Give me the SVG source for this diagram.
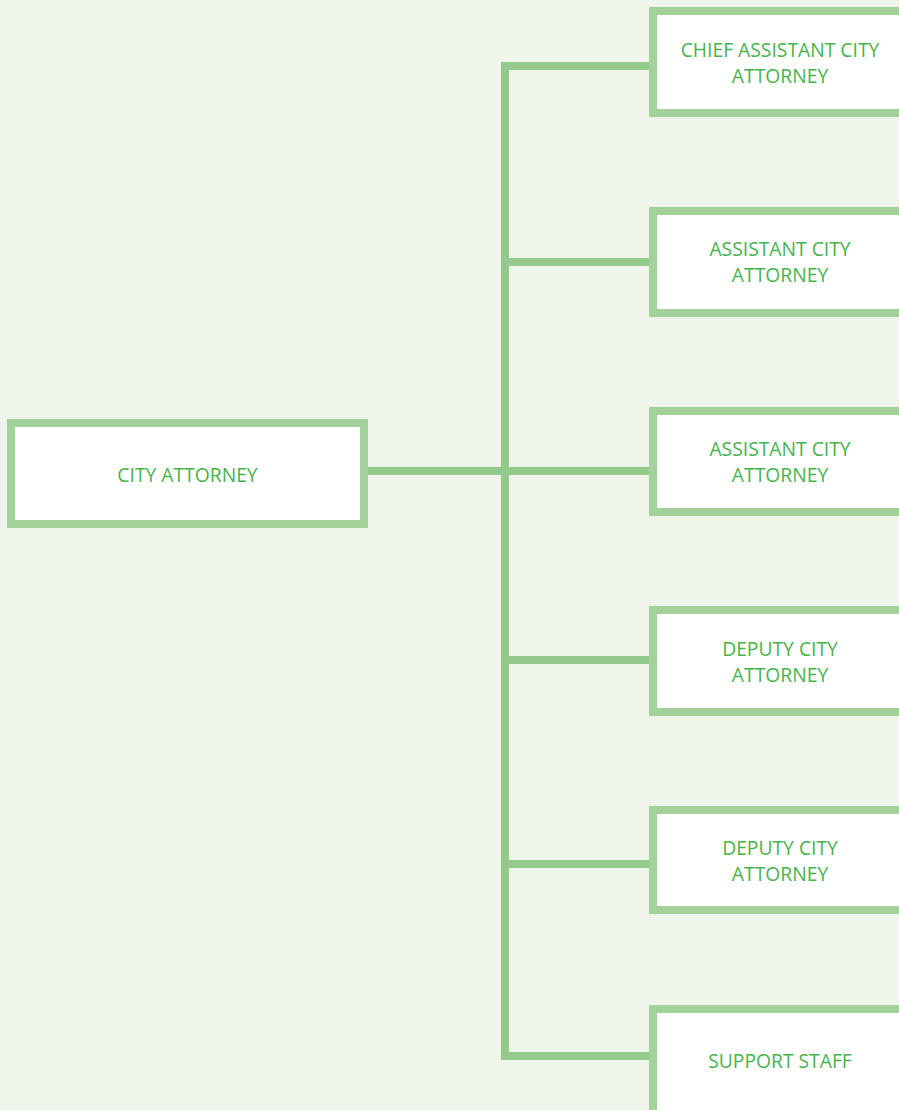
<svg xmlns="http://www.w3.org/2000/svg" width="899" height="1110" viewBox="0 0 899 1110">
  <style>
    .box { fill: #ffffff; stroke: #a3d19a; stroke-width: 8; }
    .wire { fill: none; stroke: #93c98a; stroke-width: 8; stroke-linejoin: miter; stroke-linecap: butt; }
    .label { font-family: "Open Sans", "Liberation Sans", sans-serif; font-size: 19.3px; fill: #47b34c; text-anchor: middle; }
  </style>
  <rect width="899" height="1110" fill="#eff5ea"/>

  <!-- connectors -->
  <g id="connectors">
    <path class="wire" d="M653 66 H505 V1056 H653"/>
    <path class="wire" d="M505 262 H653"/>
    <path class="wire" d="M364 471 H653"/>
    <path class="wire" d="M505 660 H653"/>
    <path class="wire" d="M505 864 H653"/>
  </g>

  <g id="city-attorney">
    <rect class="box" x="11" y="423" width="353" height="101"/>
    <text class="label" x="187.5" y="482">CITY ATTORNEY</text>
  </g>

  <g id="chief-assistant">
    <rect class="box" x="653" y="11" width="260" height="102"/>
    <text class="label" x="780" y="57">CHIEF ASSISTANT CITY</text>
    <text class="label" x="780" y="83">ATTORNEY</text>
  </g>

  <g id="assistant-1">
    <rect class="box" x="653" y="211" width="260" height="102"/>
    <text class="label" x="780" y="256">ASSISTANT CITY</text>
    <text class="label" x="780" y="282">ATTORNEY</text>
  </g>

  <g id="assistant-2">
    <rect class="box" x="653" y="411" width="260" height="101"/>
    <text class="label" x="780" y="456">ASSISTANT CITY</text>
    <text class="label" x="780" y="482">ATTORNEY</text>
  </g>

  <g id="deputy-1">
    <rect class="box" x="653" y="610" width="260" height="102"/>
    <text class="label" x="780" y="656">DEPUTY CITY</text>
    <text class="label" x="780" y="682">ATTORNEY</text>
  </g>

  <g id="deputy-2">
    <rect class="box" x="653" y="810" width="260" height="100"/>
    <text class="label" x="780" y="855">DEPUTY CITY</text>
    <text class="label" x="780" y="881">ATTORNEY</text>
  </g>

  <g id="support-staff">
    <rect class="box" x="653" y="1009" width="260" height="110"/>
    <text class="label" x="780" y="1068">SUPPORT STAFF</text>
  </g>
</svg>
